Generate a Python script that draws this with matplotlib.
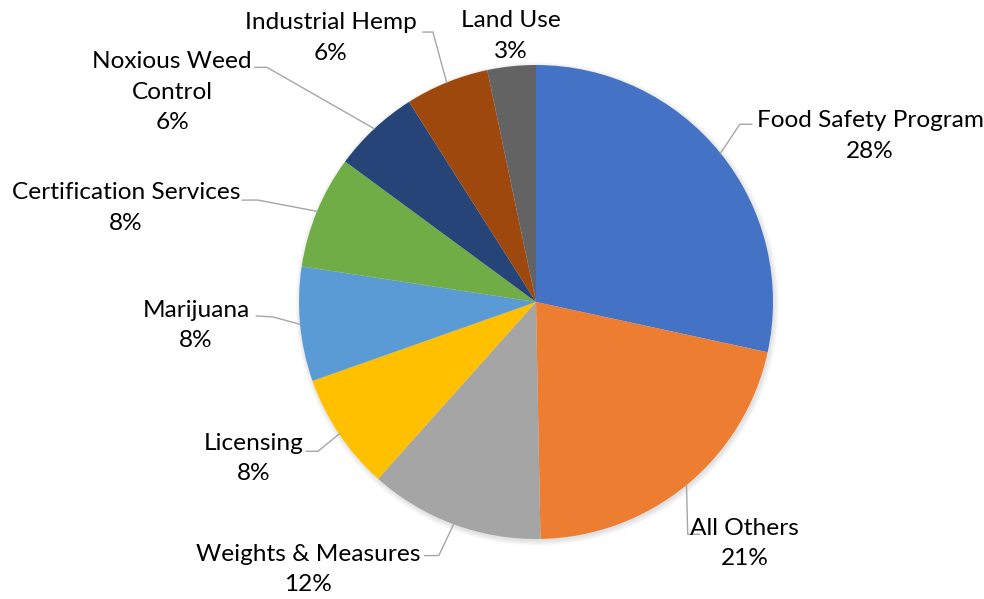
import numpy as np
import matplotlib.pyplot as plt

# Program shares (percent of total), clockwise from 12 o'clock
programs = ["Food Safety Program", "All Others", "Weights & Measures", "Licensing",
            "Marijuana", "Certification Services", "Noxious Weed\nControl",
            "Industrial Hemp", "Land Use"]
shares = [28.4, 21.3, 11.9, 8.0, 7.8, 7.7, 5.9, 5.7, 3.3]
colors = ["#4472C4", "#ED7D31", "#A5A5A5", "#FFC000", "#5B9BD5",
          "#70AD47", "#264478", "#9E480E", "#636363"]

# label placement in pie-radius units: text centre, leader elbow, leader end
label_xy = [(1.41, 0.70), (0.88, -1.02), (-0.96, -1.13), (-1.19, -0.66),
            (-1.435, -0.10), (-1.73, 0.397), (-1.535, 0.886), (-0.865, 1.114),
            (-0.105, 1.122)]
elbows = [(0.86, 0.75), (0.64, -0.98), (-0.41, -1.07), (-0.92, -0.63),
          (-1.11, -0.063), (-1.173, 0.43), (-1.135, 0.99), (-0.435, 1.139), None]
ends = [(0.91, 0.75), (0.69, -0.98), (-0.47, -1.07), (-0.97, -0.63),
        (-1.18, -0.059), (-1.24, 0.43), (-1.186, 0.99), (-0.477, 1.139), None]

plt.rcParams['font.family'] = ['Lato', 'DejaVu Sans']

fig = plt.figure(figsize=(9.84, 5.99), dpi=100)
ax = fig.add_axes([0, 0, 1, 1])

# soft drop shadow behind the pie
for k in range(6):
    ax.add_patch(plt.Circle((0.005, -0.008), 1.0 + k * 0.004, color='black',
                            alpha=0.02, lw=0, zorder=0))

wedges, _ = ax.pie(shares, colors=colors, startangle=90, counterclock=False,
                   radius=1.0, wedgeprops=dict(linewidth=0))
for w in wedges:
    w.set_zorder(2)

for w, name, share, txy, el, en in zip(wedges, programs, shares, label_xy, elbows, ends):
    ax.text(txy[0], txy[1], f"{name}\n{share:.0f}%", ha='center', va='center',
            fontsize=17.6, color='#000000', linespacing=1.55, zorder=4)
    if el is None:
        continue
    mid = np.deg2rad((w.theta1 + w.theta2) / 2)
    ax.plot([np.cos(mid), el[0], en[0]], [np.sin(mid), el[1], en[1]],
            color='#A6A6A6', lw=1.0, zorder=3, solid_joinstyle='miter')

ax.set_xlim(-536 / 237, (984 - 536) / 237)
ax.set_ylim((302 - 599) / 237, 302 / 237)
ax.set_aspect('auto')
ax.axis('off')

fig.savefig("out.png", dpi=100, facecolor='white')
